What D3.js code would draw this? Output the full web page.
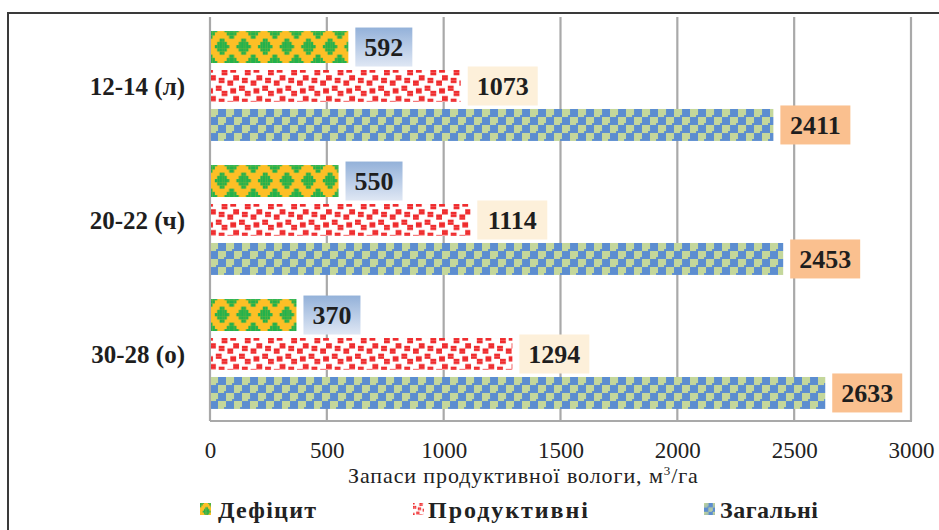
<!DOCTYPE html>
<html>
<head>
<meta charset="utf-8">
<script src="https://cdn.jsdelivr.net/npm/d3@7"></script>
<style>
  html, body { margin: 0; padding: 0; background: #fff; }
  svg { display: block; }
  text { font-family: "Liberation Serif", "Times New Roman", serif; }
</style>
</head>
<body>
<div id="chart"></div>
<script>
// Soil moisture reserves by slope position
const categories = ["12-14 (л)", "20-22 (ч)", "30-28 (о)"];
const seriesNames = ["Дефіцит", "Продуктивні", "Загальні"];
const deficit    = [592, 550, 370];
const productive = [1073, 1114, 1294];
const total      = [2411, 2453, 2633];
const xTicks = [0, 500, 1000, 1500, 2000, 2500, 3000];
const axisTitle = "Запаси продуктивної вологи, м";
const axisUnit = "/га";

const seriesValues = [deficit, productive, total];
const labelFill = ["url(#lblBlue)", "#fdf0da", "#fac08f"];

const W = 939, H = 530;
const svg = d3.select("#chart").append("svg").attr("width", W).attr("height", H);
const defs = svg.append("defs");

// gradient for the deficit value labels
const g = defs.append("linearGradient").attr("id", "lblBlue")
  .attr("x1", 0).attr("y1", 0).attr("x2", 0).attr("y2", 1);
g.append("stop").attr("offset", "0%").attr("stop-color", "#93b1d9");
g.append("stop").attr("offset", "100%").attr("stop-color", "#dfe7f4");

// ---- fill patterns (pixel tiles) ----
// stepped diamonds in a staggered arrangement
function sphereCells() {
  const cols = 9, rows = 10, widths = [2, 4, 6, 4, 2], out = [];
  const diamonds = [{ c: 4.5, r: 3 }, { c: 0, r: 8 }];
  diamonds.forEach(dm => {
    widths.forEach((w, k) => {
      for (let i = 0; i < w; i++) {
        const col = ((Math.round(dm.c - w / 2) + i) % cols + cols) % cols;
        const row = (dm.r + k) % rows;
        out.push([col, row]);
      }
    });
  });
  return { cols, rows, cells: out };
}
function confettiCells() {
  const bits = [0x8d, 0x0c, 0xc0, 0xd8, 0x1b, 0x03, 0x30, 0xb1], out = [];
  bits.forEach((b, j) => { for (let i = 0; i < 8; i++) if (b & (0x80 >> i)) out.push([i, j]); });
  return { cols: 8, rows: 8, cells: out };
}
function checkerCells() {
  const out = [];
  for (let i = 0; i < 8; i++) for (let j = 0; j < 8; j++) {
    const a = i < 4, b = j < 4;
    if (a === b && !((i === 3 || i === 7) && (j === 3 || j === 7))) out.push([i, j]);
  }
  return { cols: 8, rows: 8, cells: out };
}
const patternSpecs = [
  { tile: sphereCells(), cw: 2.4, ch: 3.2, dy: -2, bg: "#fdbf26", fg: "#22b14c" },
  { tile: confettiCells(), cw: 2.9, ch: 2.6, dy: 0, bg: "#ffffff", fg: "#ef2b2d" },
  { tile: checkerCells(), cw: 2.0, ch: 2.0, dy: 0, bg: "#5c8dd0", fg: "#c4d79b" }
];
function makePattern(id, spec, tx, ty, k) {
  const pw = spec.tile.cols * spec.cw, ph = spec.tile.rows * spec.ch;
  const p = defs.append("pattern").attr("id", id)
    .attr("patternUnits", "userSpaceOnUse")
    .attr("width", pw).attr("height", ph)
    .attr("patternTransform", `translate(${tx},${ty + spec.dy * k}) scale(${k})`);
  p.append("rect").attr("width", pw).attr("height", ph).attr("fill", spec.bg);
  p.selectAll("rect.c").data(spec.tile.cells).join("rect").attr("class", "c")
    .attr("x", d => d[0] * spec.cw).attr("y", d => d[1] * spec.ch)
    .attr("width", spec.cw + 0.05).attr("height", spec.ch + 0.05)
    .attr("fill", spec.fg);
}

// ---- scales ----
const plot = { left: 210, right: 911, top: 19, bottom: 421 };
const x = d3.scaleLinear().domain([0, 3000]).range([plot.left, plot.right]);
const y = d3.scaleBand().domain(categories).range([plot.top, plot.bottom]).padding(0);
const yIn = d3.scaleBand().domain(seriesNames)
  .range([y.bandwidth() * 0.09, y.bandwidth() * 0.91]).paddingInner(0.18);

// outer frame
svg.append("rect").attr("x", 8).attr("y", 13).attr("width", 960).attr("height", 560)
  .attr("fill", "none").attr("stroke", "#3a3a3a").attr("stroke-width", 2);

// gridlines
svg.append("g").selectAll("line").data(xTicks).join("line")
  .attr("x1", d => x(d)).attr("x2", d => x(d))
  .attr("y1", plot.top - 2).attr("y2", plot.bottom)
  .attr("stroke", "#a9a9a9").attr("stroke-width", 2.2);
// bottom border of the plot area
svg.append("line").attr("x1", plot.left).attr("x2", plot.right + 1)
  .attr("y1", plot.bottom).attr("y2", plot.bottom)
  .attr("stroke", "#a9a9a9").attr("stroke-width", 2.2);

// bars
const rows = [];
categories.forEach((c, ci) => {
  seriesNames.forEach((s, si) => {
    rows.push({ c, ci, s, si, v: seriesValues[si][ci] });
  });
});
rows.forEach(r => {
  const by = y(r.c) + yIn(r.s);
  makePattern(`pat-${r.si}-${r.ci}`, patternSpecs[r.si], x(0), by, 1);
});
svg.append("g").selectAll("rect").data(rows).join("rect")
  .attr("x", x(0) + 1)
  .attr("y", d => y(d.c) + yIn(d.s))
  .attr("width", d => x(d.v) - x(0) - 1)
  .attr("height", yIn.bandwidth())
  .attr("fill", d => `url(#pat-${d.si}-${d.ci})`);

// value labels
const lblH = 39;
const lblW = v => String(v).length === 3 ? 57 : 70;
const lbl = svg.append("g").selectAll("g").data(rows).join("g")
  .attr("transform", d => `translate(${x(d.v) + 7},${y(d.c) + yIn(d.s) + yIn.bandwidth() / 2})`);
lbl.append("rect")
  .attr("x", 0).attr("y", -lblH / 2)
  .attr("width", d => lblW(d.v))
  .attr("height", lblH)
  .attr("fill", d => labelFill[d.si]);
lbl.append("text")
  .attr("x", d => lblW(d.v) / 2)
  .attr("y", 9)
  .attr("text-anchor", "middle")
  .attr("font-size", 26).attr("font-weight", "bold").attr("fill", "#1e1e1e")
  .text(d => d.v);

// category labels
svg.append("g").selectAll("text").data(categories).join("text")
  .attr("x", 185).attr("y", d => y(d) + y.bandwidth() / 2 + 9)
  .attr("text-anchor", "end")
  .attr("font-size", 25).attr("font-weight", "bold").attr("fill", "#1e1e1e")
  .text(d => d);

// x axis tick labels
const xAxis = d3.axisBottom(x).tickValues(xTicks).tickSize(0).tickPadding(0).tickFormat(d3.format("d"));
const ax = svg.append("g").attr("transform", `translate(0,${plot.bottom})`).call(xAxis);
ax.select(".domain").remove();
ax.selectAll("text")
  .attr("dy", null).attr("y", 37)
  .attr("font-size", 23).attr("fill", "#222")
  .style("font-family", "'Liberation Serif', serif");

// axis title
const t = svg.append("text").attr("x", 348).attr("y", 483)
  .attr("font-size", 22).attr("fill", "#222").attr("letter-spacing", 0.9);
t.append("tspan").text(axisTitle);
t.append("tspan").attr("font-size", 13).attr("dy", -8).text("3");
t.append("tspan").attr("dy", 8).text(axisUnit);

// legend
const legendPos = [{ ix: 200, tx: 218, tw: 98 }, { ix: 413, tx: 428, tw: 160 }, { ix: 704, tx: 720, tw: 98 }];
seriesNames.forEach((s, si) => {
  makePattern(`leg-${si}`, patternSpecs[si], legendPos[si].ix, 503, 0.55);
  svg.append("rect").attr("x", legendPos[si].ix).attr("y", 503)
    .attr("width", 11).attr("height", 12)
    .attr("fill", `url(#leg-${si})`);
  svg.append("text").attr("x", legendPos[si].tx).attr("y", 518)
    .attr("font-size", 24).attr("font-weight", "bold").attr("fill", "#222")
    .attr("textLength", legendPos[si].tw).attr("lengthAdjust", "spacing")
    .text(s);
});
</script>
</body>
</html>
